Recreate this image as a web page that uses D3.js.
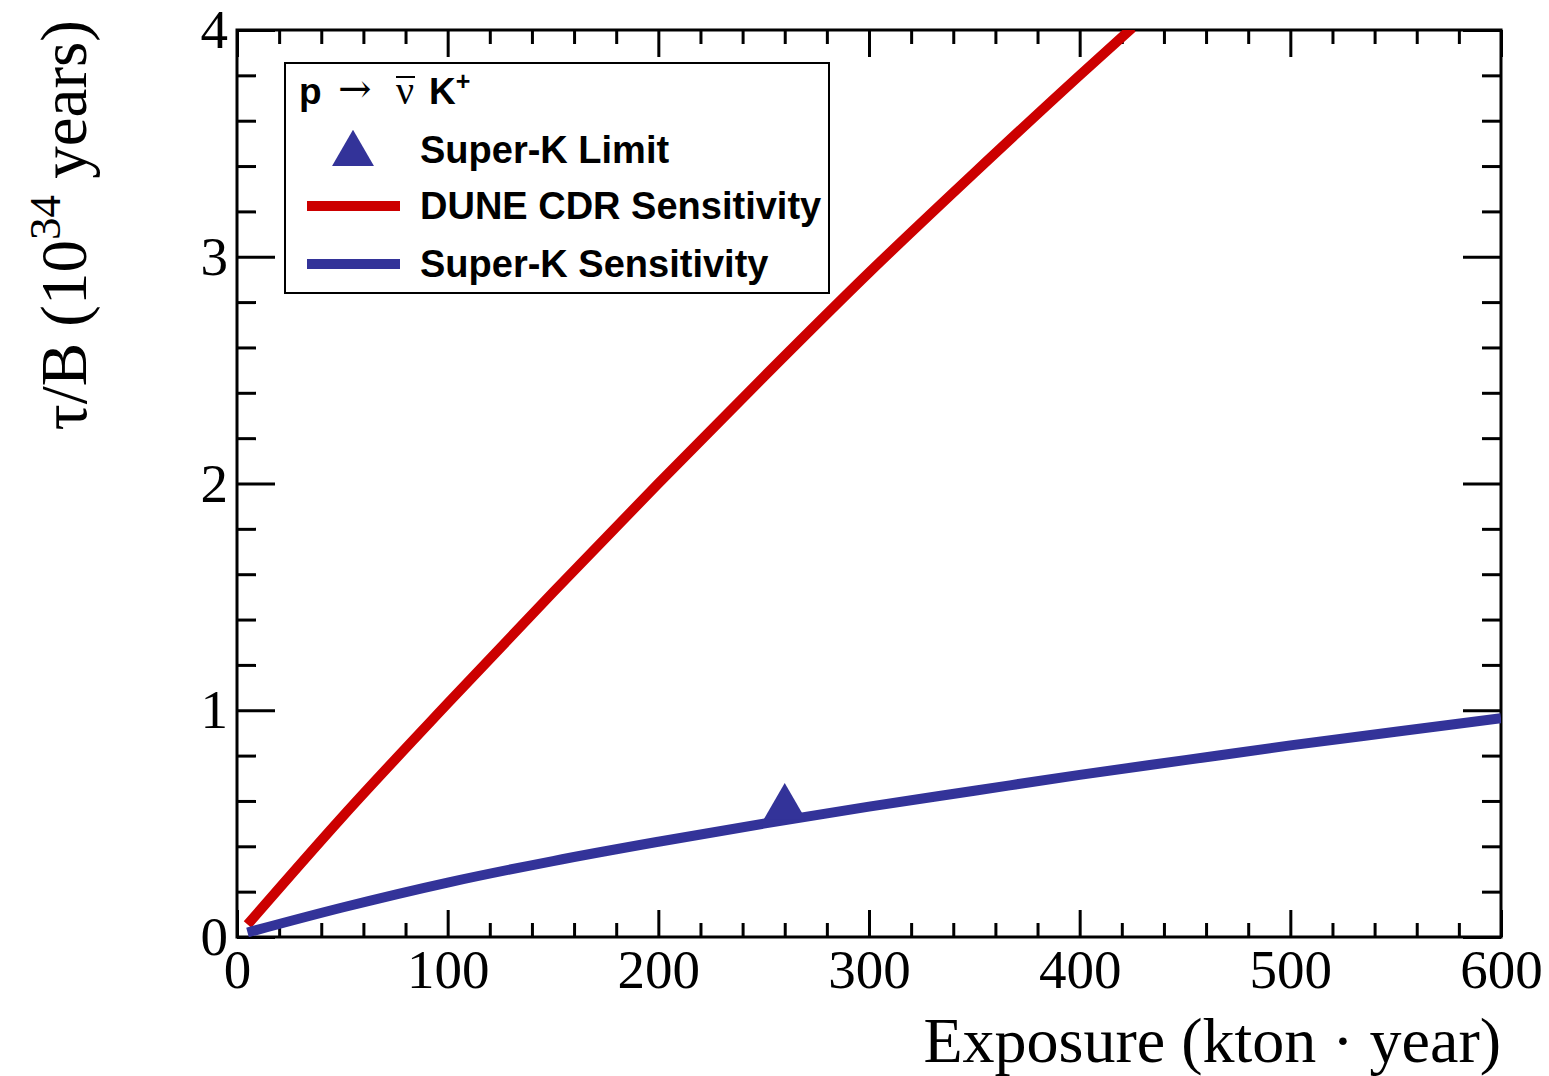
<!DOCTYPE html>
<html>
<head>
<meta charset="utf-8">
<script src="https://cdn.jsdelivr.net/npm/d3@7"></script>
<style>
  body { margin: 0; background: #fff; }
  svg { display: block; }
  .tick text { font-family: "Liberation Serif", "Times New Roman", serif; }
  .legtext { font-family: "Liberation Sans", Arial, sans-serif; font-weight: bold; }
</style>
</head>
<body>
<div class="container"></div>
<script>
// values
const duneExposure = [5, 50, 100, 150, 200, 250, 300, 350, 400, 425];
const duneSens = [0.055, 0.53, 1.03, 1.52, 2.0, 2.47, 2.93, 3.37, 3.8, 4.01];

const skExposure = [5, 50, 100, 150, 200, 250, 300, 350, 400, 450, 500, 550, 600];
const skSens = [0.02, 0.13, 0.24, 0.335, 0.42, 0.50, 0.575, 0.645, 0.715, 0.78, 0.845, 0.905, 0.965];

const skLimit = [{x: 260, y: 0.59}];

const xTicks = [0, 100, 200, 300, 400, 500, 600];
const yTicks = [0, 1, 2, 3, 4];
const legendLabels = ["Super-K Limit", "DUNE CDR Sensitivity", "Super-K Sensitivity"];

const red = "#cc0000", blue = "#333399";

const W = 1549, H = 1076;
const margin = {top: 30, right: 48, bottom: 139, left: 237};
const width = W - margin.left - margin.right,
    height = H - margin.top - margin.bottom;

const svg = d3.select("div.container").append("svg")
    .attr("width", W)
    .attr("height", H);

const g = svg.append("g")
    .attr("transform", `translate(${margin.left},${margin.top})`);

const x = d3.scaleLinear().domain([0, 600]).range([0, width]);
const y = d3.scaleLinear().domain([0, 4]).range([height, 0]);

g.append("clipPath").attr("id", "clip")
  .append("rect").attr("width", width).attr("height", height);

//axes: major and minor ticks, mirrored on top and right
const xMinor = d3.range(0, 601, 20).filter(d => d % 100 !== 0);
const yMinor = d3.range(0, 4.001, 0.2).map(d => +d.toFixed(1)).filter(d => d % 1 !== 0);

function styleAxis(sel) {
  sel.select(".domain").remove();
  sel.selectAll(".tick line").attr("stroke", "#000").attr("stroke-width", 3);
  sel.selectAll(".tick text").attr("fill", "#000").style("font-size", "55px");
}

g.append("g").attr("transform", `translate(0,${height})`)
  .call(d3.axisBottom(x).tickValues(xTicks).tickSize(-27).tickPadding(12).tickFormat(d3.format("d")))
  .call(styleAxis);
g.append("g").attr("transform", `translate(0,${height})`)
  .call(d3.axisBottom(x).tickValues(xMinor).tickSize(-14).tickFormat(""))
  .call(styleAxis);
g.append("g")
  .call(d3.axisTop(x).tickValues(xTicks).tickSize(-27).tickFormat(""))
  .call(styleAxis);
g.append("g")
  .call(d3.axisTop(x).tickValues(xMinor).tickSize(-14).tickFormat(""))
  .call(styleAxis);

g.append("g")
  .call(d3.axisLeft(y).tickValues(yTicks).tickSize(-38).tickPadding(9).tickFormat(d3.format("d")))
  .call(styleAxis);
g.append("g")
  .call(d3.axisLeft(y).tickValues(yMinor).tickSize(-19).tickFormat(""))
  .call(styleAxis);
g.append("g").attr("transform", `translate(${width},0)`)
  .call(d3.axisRight(y).tickValues(yTicks).tickSize(-38).tickFormat(""))
  .call(styleAxis);
g.append("g").attr("transform", `translate(${width},0)`)
  .call(d3.axisRight(y).tickValues(yMinor).tickSize(-19).tickFormat(""))
  .call(styleAxis);

//frame
g.append("rect")
  .attr("width", width).attr("height", height)
  .attr("fill", "none").attr("stroke", "#000").attr("stroke-width", 3);

//curves
const line = d3.line().curve(d3.curveMonotoneX).x(d => x(d[0])).y(d => y(d[1]));

g.append("path")
  .datum(duneExposure.map((e, i) => [e, duneSens[i]]))
  .attr("clip-path", "url(#clip)")
  .attr("fill", "none").attr("stroke", red).attr("stroke-width", 10)
  .attr("d", line);

g.append("path")
  .datum(skExposure.map((e, i) => [e, skSens[i]]))
  .attr("clip-path", "url(#clip)")
  .attr("fill", "none").attr("stroke", blue).attr("stroke-width", 10)
  .attr("d", line);

const tri = d3.symbol().type(d3.symbolTriangle).size(760);
g.selectAll(".limit")
  .data(skLimit)
  .enter().append("path")
  .attr("class", "limit")
  .attr("transform", d => `translate(${x(d.x)},${y(d.y) + 4})`)
  .attr("fill", blue)
  .attr("d", tri);

//axis titles
svg.append("text")
  .attr("x", margin.left + width).attr("y", 1062)
  .attr("text-anchor", "end")
  .style("font-family", "Liberation Serif, serif").style("font-size", "64px")
  .text("Exposure (kton \u00b7 year)");

const yt = svg.append("text")
  .attr("transform", "translate(86,20) rotate(-90)")
  .attr("text-anchor", "end")
  .style("font-family", "Liberation Serif, serif").style("font-size", "65px");
yt.append("tspan").text("\u03c4/B (10");
yt.append("tspan").attr("dy", -26).style("font-size", "45px").text("34");
yt.append("tspan").attr("dy", 26).text(" years)");

//legend
const legend = svg.append("g").attr("id", "legend");
legend.append("rect")
  .attr("x", 285).attr("y", 63).attr("width", 544).attr("height", 230)
  .attr("fill", "#fff").attr("stroke", "#000").attr("stroke-width", 2);

const head = legend.append("text")
  .attr("y", 104)
  .style("font-size", "37px");
head.append("tspan").attr("class", "legtext").attr("x", 299).text("p");
head.append("tspan").style("font-family", "DejaVu Serif, serif").style("font-size", "40px")
  .attr("x", 338).attr("dy", -2).text("\u2192");
head.append("tspan").style("font-family", "Liberation Serif, serif").style("font-size", "40px")
  .attr("x", 396).attr("dy", 2).text("\u03bd");
head.append("tspan").attr("class", "legtext").attr("x", 429).text("K");
head.append("tspan").attr("class", "legtext").attr("dy", -14).style("font-size", "25px").text("+");
legend.append("line")
  .attr("x1", 396).attr("x2", 415).attr("y1", 77).attr("y2", 77)
  .attr("stroke", "#000").attr("stroke-width", 2);

const rowY = [150, 206, 264];
legend.append("path")
  .attr("transform", `translate(353,${rowY[0] + 4})`)
  .attr("fill", blue).attr("d", tri);
legend.append("line")
  .attr("x1", 307).attr("x2", 400).attr("y1", rowY[1]).attr("y2", rowY[1])
  .attr("stroke", red).attr("stroke-width", 10);
legend.append("line")
  .attr("x1", 307).attr("x2", 400).attr("y1", rowY[2]).attr("y2", rowY[2])
  .attr("stroke", blue).attr("stroke-width", 10);

legend.selectAll(".legtext.row")
  .data(legendLabels)
  .enter().append("text")
  .attr("class", "legtext row")
  .attr("x", 420).attr("y", (d, i) => rowY[i] + 13)
  .style("font-size", "38px")
  .text(d => d);
</script>
</body>
</html>
